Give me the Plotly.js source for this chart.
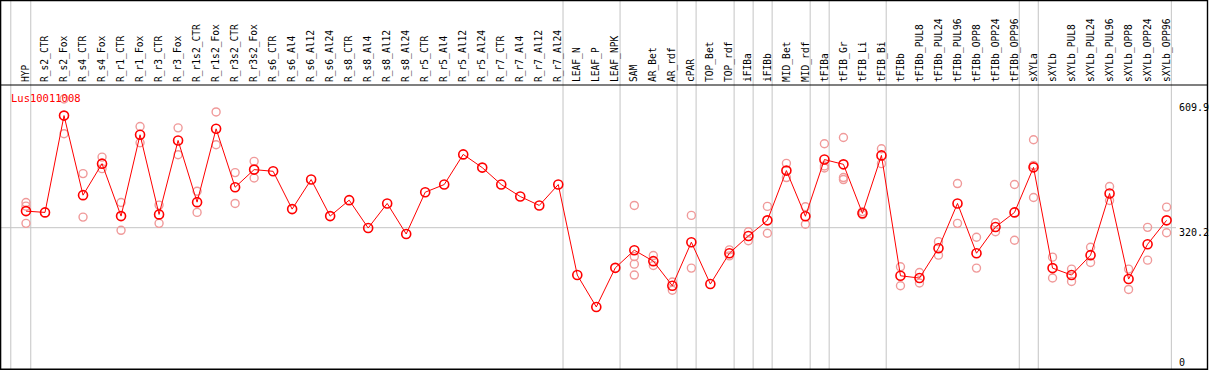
<!DOCTYPE html>
<html>
<head>
<meta charset="utf-8">
<script src="https://cdn.plot.ly/plotly-3.0.1.min.js"></script>
<style>
  html, body { margin: 0; padding: 0; background: #ffffff; }
  #chart { width: 1209px; height: 370px; }
</style>
</head>
<body>
<div id="chart"></div>
<script>
const chartTitle = 'Lus10011008';

const categories = [
  'HYP', 'R_s2_CTR', 'R_s2_Fox', 'R_s4_CTR', 'R_s4_Fox', 'R_r1_CTR', 'R_r1_Fox', 'R_r3_CTR', 'R_r3_Fox', 'R_r1s2_CTR',
  'R_r1s2_Fox', 'R_r3s2_CTR', 'R_r3s2_Fox', 'R_s6_CTR', 'R_s6_Al4', 'R_s6_Al12', 'R_s6_Al24', 'R_s8_CTR', 'R_s8_Al4', 'R_s8_Al12',
  'R_s8_Al24', 'R_r5_CTR', 'R_r5_Al4', 'R_r5_Al12', 'R_r5_Al24', 'R_r7_CTR', 'R_r7_Al4', 'R_r7_Al12', 'R_r7_Al24', 'LEAF_N',
  'LEAF_P', 'LEAF_NPK', 'SAM', 'AR_Bet', 'AR_rdf', 'cPAR', 'TOP_Bet', 'TOP_rdf', 'iFIBa', 'iFIBb',
  'MID_Bet', 'MID_rdf', 'tFIBa', 'tFIB_Gr', 'tFIB_Li', 'tFIB_Bi', 'tFIBb', 'tFIBb_PUL8', 'tFIBb_PUL24', 'tFIBb_PUL96',
  'tFIBb_OPP8', 'tFIBb_OPP24', 'tFIBb_OPP96', 'sXYLa', 'sXYLb', 'sXYLb_PUL8', 'sXYLb_PUL24', 'sXYLb_PUL96', 'sXYLb_OPP8', 'sXYLb_OPP24',
  'sXYLb_OPP96'
];

const means = [
  357.5, 354.6, 572.5, 393.4, 464.3, 346.3, 529.3, 350.1, 516.5, 377.7,
  542.7, 411.3, 450.9, 447.1, 362.0, 428.5, 346.3, 382.2, 319.5, 374.8,
  306.0, 400.1, 417.3, 485.1, 455.4, 417.3, 390.4, 370.3, 417.3, 213.6,
  141.9, 229.9, 269.5, 244.9, 189.6, 287.5, 193.4, 262.8, 301.6, 336.7,
  448.7, 345.9, 473.5, 462.8, 352.6, 482.9, 212.0, 206.9, 274.0, 374.8,
  262.8, 321.7, 354.6, 456.0, 229.3, 213.6, 258.4, 397.2, 204.6, 283.0,
  336.7
];

const rep1 = [
  377.0, null, 609.9, 441.9, 479.1, 377.0, 547.8, 371.0, 544.9, 402.3,
  580.7, 444.2, 469.5, null, null, null, null, null, null, null,
  null, null, null, null, null, null, null, null, null, null,
  null, null, 370.3, 257.5, 197.9, 347.9, null, 270.2, 311.2, 368.1,
  465.0, 367.2, 509.1, 523.2, 356.4, 497.9, 232.2, 219.4, 288.8, 419.5,
  298.7, 331.3, 417.3, 518.1, 253.9, 227.0, 276.3, 412.8, 227.0, 321.0,
  366.5
];

const rep2 = [
  368.7, null, 531.5, 344.1, 453.1, 314.3, 511.3, 330.0, 484.5, 354.6,
  506.9, 374.8, 432.1, null, null, null, null, null, null, null,
  null, null, null, null, null, null, null, null, null, null,
  null, null, 255.2, 235.1, 179.6, 229.3, null, 256.8, 291.0, 307.6,
  433.0, 328.0, 459.0, 433.0, 349.7, 464.3, 189.6, 195.7, 258.4, 330.0,
  229.3, 311.2, 291.9, 460.5, 206.9, 199.3, 241.8, 381.5, 181.3, 247.2,
  308.9
];

const rep3 = [
  330.0, null, null, null, null, null, null, null, null, null,
  null, null, null, null, null, null, null, null, null, null,
  null, null, null, null, null, null, null, null, null, null,
  null, null, 238.2, null, null, null, null, null, null, null,
  null, null, 454.5, 428.5, null, null, null, null, null, null,
  null, null, null, 388.2, null, null, null, null, null, null,
  null
];

const rep4 = [
  null, null, null, null, null, null, null, null, null, null,
  null, null, null, null, null, null, null, null, null, null,
  null, null, null, null, null, null, null, null, null, null,
  null, null, 213.6, null, null, null, null, null, null, null,
  null, null, null, null, null, null, null, null, null, null,
  null, null, null, null, null, null, null, null, null, null,
  null
];

const yLabelValues = [609.9, 320.2, 0];
const yLabelTexts = ['609.9', '320.2', '0'];
const groupEnds = ['HYP', 'R_r7_Al24', 'LEAF_NPK', 'AR_rdf', 'cPAR', 'TOP_rdf', 'iFIBa', 'iFIBb',
                   'MID_rdf', 'tFIBa', 'tFIB_Bi', 'tFIBb_OPP96', 'sXYLa', 'sXYLb_OPP96'];

// ---- build replicate trace
const repX = [], repY = [];
[rep1, rep2, rep3, rep4].forEach(function (arr) {
  arr.forEach(function (v, i) {
    if (v !== null) { repX.push(categories[i]); repY.push(v); }
  });
});

const MONO = '"DejaVu Sans Mono", "Liberation Mono", monospace';
const W = 1209, H = 370, TOP = 85;
const plotH = H - TOP;
const py = function (pix) { return (H - pix) / plotH; }; // pixel row -> paper y

const traces = [
  {
    type: 'scatter', mode: 'markers', x: repX, y: repY,
    marker: { symbol: 'circle-open', size: 8, color: '#f09a9a', line: { width: 1.4, color: '#f09a9a' } },
    hoverinfo: 'x+y', showlegend: false, cliponaxis: false
  },
  {
    type: 'scatter', mode: 'lines+markers', x: categories, y: means,
    line: { color: '#ff0000', width: 1 },
    marker: { symbol: 'circle-open', size: 9, color: '#ff0000', line: { width: 1.6, color: '#ff0000' } },
    hoverinfo: 'x+y', showlegend: false
  }
];

const shapes = [];
// group divider lines
const dividerXs = [-0.8].concat(groupEnds.map(function (n) { return categories.indexOf(n) + 0.25; }));
dividerXs.forEach(function (xv) {
  shapes.push({ type: 'line', xref: 'x', yref: 'paper', x0: xv, x1: xv, y0: py(369), y1: py(0),
                line: { color: '#c4c4c4', width: 1 }, layer: 'below' });
});
// horizontal reference line at 320.2
shapes.push({ type: 'line', xref: 'paper', yref: 'y', x0: 0, x1: 1176 / W, y0: yLabelValues[1], y1: yLabelValues[1],
              line: { color: '#c4c4c4', width: 1 }, layer: 'below' });
// header separator
shapes.push({ type: 'line', xref: 'paper', yref: 'paper', x0: 0, x1: 1207.5 / W, y0: 1, y1: 1,
              line: { color: '#000000', width: 1.2 } });
// outer frame
shapes.push({ type: 'rect', xref: 'paper', yref: 'paper', x0: 0.6 / W, x1: 1207.5 / W, y0: py(369.2), y1: py(0.6),
              line: { color: '#000000', width: 1.4 }, fillcolor: 'rgba(0,0,0,0)' });

const annotations = [
  { text: chartTitle, xref: 'paper', yref: 'paper', x: 8.5 / W, y: py(97.5), xanchor: 'left', yanchor: 'middle',
    showarrow: false, font: { family: MONO, size: 10.5, color: '#ff0000' } }
];
const yShifts = [-9, -4.6, 7.7];
yLabelValues.forEach(function (v, k) {
  annotations.push({ text: yLabelTexts[k], xref: 'paper', yref: 'y', x: 1176.5 / W, y: v, yshift: yShifts[k],
                     xanchor: 'left', yanchor: 'middle', showarrow: false,
                     font: { family: MONO, size: 10, color: '#000000' } });
});

const layout = {
  width: W, height: H,
  margin: { l: 0, r: 0, t: TOP, b: 0, pad: 0 },
  paper_bgcolor: '#ffffff', plot_bgcolor: '#ffffff',
  showlegend: false,
  xaxis: {
    type: 'category', categoryorder: 'array', categoryarray: categories,
    range: [-26 / 19.01, (W - 26) / 19.01],
    side: 'top', tickangle: -90, ticks: '', showgrid: false, zeroline: false, showline: false,
    tickfont: { family: MONO, size: 9.6, color: '#000000' },
    ticklabelstandoff: 2, automargin: false, fixedrange: true
  },
  yaxis: {
    range: [0, 641.3], showticklabels: false, showgrid: false, zeroline: false, showline: false,
    ticks: '', fixedrange: true
  },
  shapes: shapes,
  annotations: annotations
};

Plotly.newPlot('chart', traces, layout, { displayModeBar: false, staticPlot: true });
</script>
</body>
</html>
